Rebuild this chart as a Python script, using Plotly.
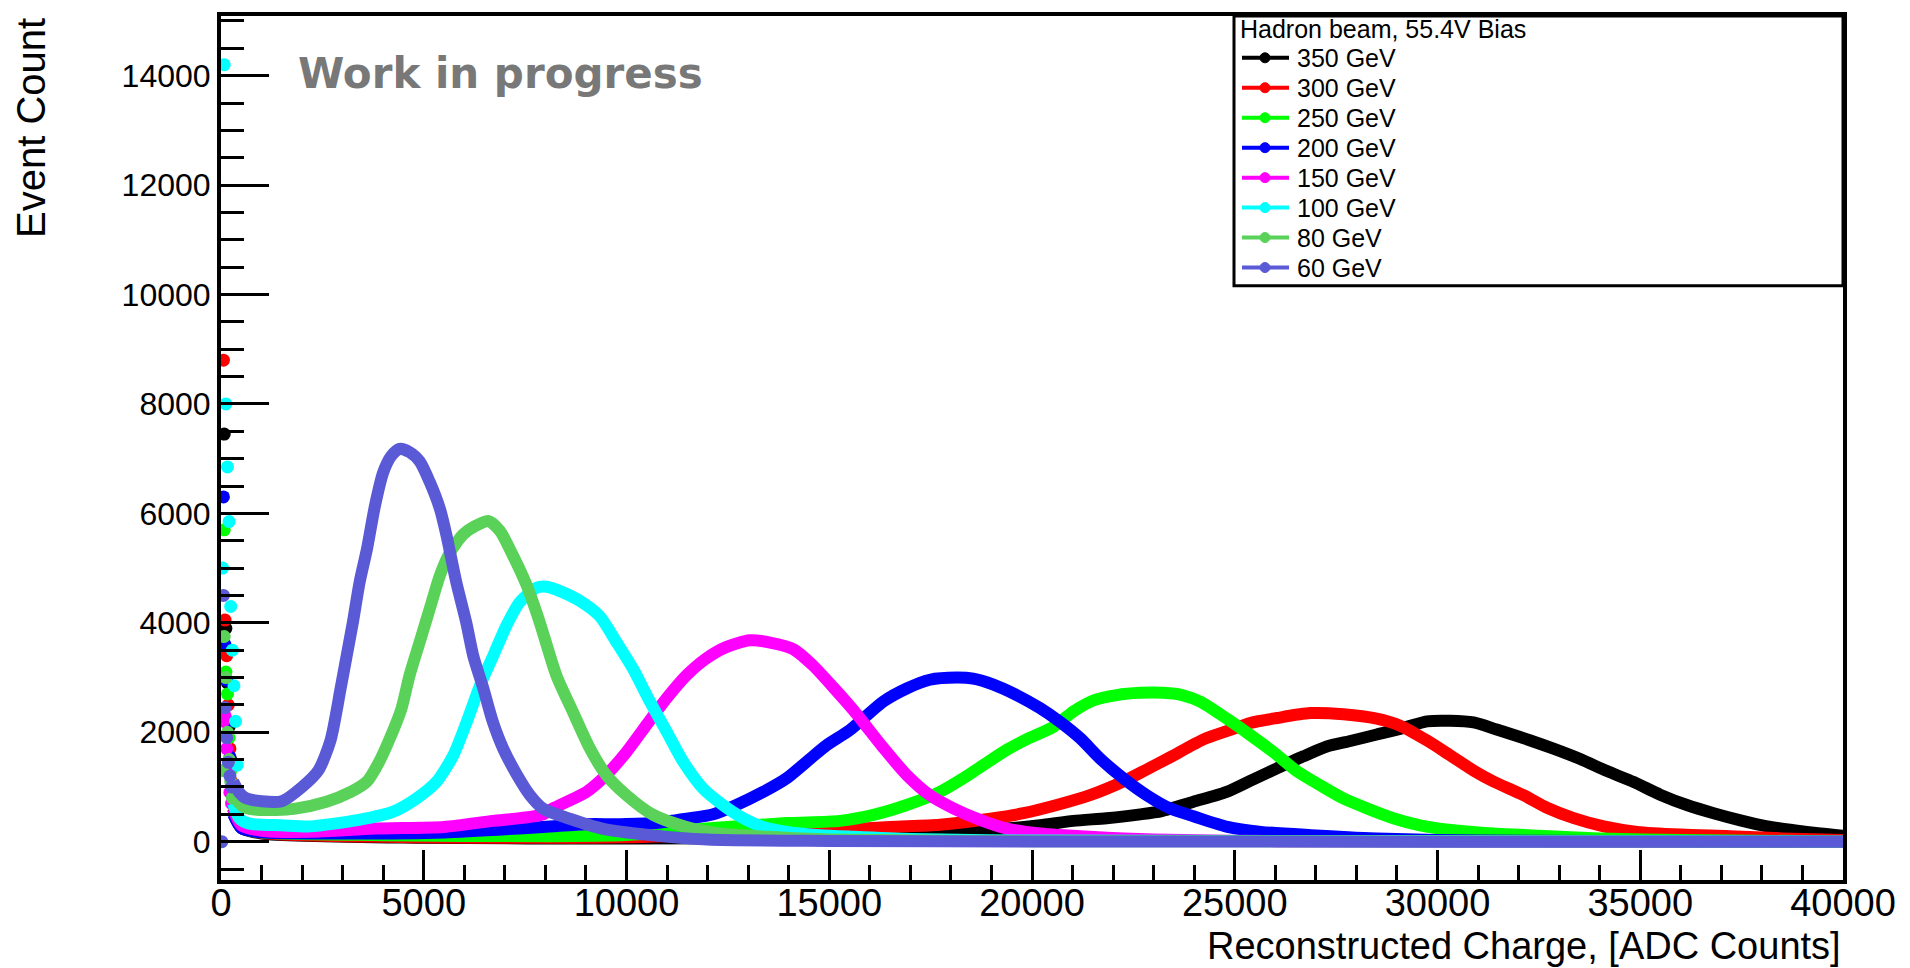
import plotly.graph_objects as go

# ---------------- data ----------------
energies = ["350 GeV", "300 GeV", "250 GeV", "200 GeV", "150 GeV", "100 GeV", "80 GeV", "60 GeV"]
colors = ["#000000", "#ff0000", "#00ff00", "#0000ff", "#ff00ff", "#00ffff", "#5ad25a", "#5a5ad6"]
legend_title = "Hadron beam, 55.4V Bias"

# main distributions: charge (ADC) and event count
x350 = [300, 500, 1000, 5000, 10000, 15000, 17730, 19380, 20200, 21020, 21840, 22670, 23200, 23980, 24800,
        25460, 26040, 26690, 27270, 27850, 28500, 29160, 29740, 30310, 30890, 31460, 32290, 32860, 33520,
        34180, 34840, 35490, 36150, 36810, 37470, 38130, 38780, 39440, 40000]
y350 = [600, 250, 150, 70, 60, 80, 150, 240, 300, 380, 430, 500, 560, 730, 910,
        1140, 1340, 1560, 1740, 1840, 1960, 2080, 2200, 2210, 2180, 2050, 1850, 1700, 1510,
        1290, 1090, 860, 670, 520, 390, 280, 210, 150, 110]

x300 = [300, 500, 1000, 5000, 10000, 13000, 14770, 16500, 17730, 18970, 19790, 20610, 21430, 22250, 22830,
        23400, 24230, 24800, 25380, 26040, 26860, 27680, 28500, 29080, 29740, 30310, 30890, 31380,
        32120, 32700, 33360, 34100, 34920, 36000, 37200, 38500, 40000]
y300 = [700, 280, 160, 80, 80, 150, 200, 270, 310, 420, 520, 670, 850, 1100, 1320,
        1540, 1870, 2020, 2170, 2260, 2350, 2330, 2250, 2120, 1850, 1580, 1300, 1100,
        850, 620, 430, 280, 180, 130, 100, 60, 30]

x250 = [300, 500, 1000, 4000, 8000, 10000, 12140, 13950, 15260, 16090, 16910, 17730, 18310, 18800, 19380,
        19950, 20530, 21020, 21510, 22090, 22670, 23240, 23700, 24150, 24800, 25380, 25950, 26530, 27110,
        27680, 28260, 28910, 29570, 30390, 31380, 32500, 34000, 36000, 40000]
y250 = [550, 260, 170, 120, 100, 120, 250, 340, 380, 490, 670, 910, 1160, 1400, 1680,
        1900, 2100, 2380, 2580, 2680, 2720, 2720, 2680, 2560, 2250, 1950, 1640, 1290, 1030,
        790, 610, 430, 300, 210, 150, 110, 60, 30, 5]

x200 = [300, 500, 1000, 3000, 5500, 7950, 9010, 9840, 10660, 11480, 12140, 12710, 13370, 13950, 14440,
        14930, 15510, 16330, 16910, 17480, 18140, 18550, 19050, 19620, 20200, 20690, 21190, 21680, 22250,
        22830, 23400, 24000, 24820, 25650, 26880, 28500, 31000, 40000]
y200 = [500, 250, 170, 150, 170, 270, 320, 320, 340, 420, 500, 670, 910, 1160, 1460,
        1760, 2040, 2560, 2800, 2960, 3000, 2980, 2870, 2680, 2440, 2190, 1890, 1520, 1160,
        850, 610, 460, 270, 180, 120, 60, 20, 0]

x150 = [300, 500, 1000, 2200, 3800, 5500, 6700, 7370, 7950, 8190, 9010, 9500, 10000, 10490, 10990,
        11480, 11970, 12470, 13040, 13540, 14110, 14600, 15100, 15600, 16330, 16910, 17480, 18060, 18720,
        19380, 20200, 21430, 23000, 26000, 40000]
y150 = [600, 300, 200, 180, 240, 270, 380, 430, 500, 610, 910, 1220, 1640, 2130, 2620,
        3040, 3350, 3560, 3680, 3640, 3520, 3220, 2820, 2400, 1720, 1220, 850, 610, 400,
        240, 150, 90, 40, 10, 0]

x100 = [300, 450, 700, 1500, 2200, 3400, 4250, 4820, 5320, 5730, 6060, 6390, 6720, 7040, 7370,
        7780, 8030, 8360, 8850, 9340, 9750, 10160, 10580, 10990, 11400, 11890, 12380, 12880, 13370,
        13950, 14770, 15600, 17000, 20000, 40000]
y100 = [700, 430, 330, 300, 280, 400, 550, 790, 1100, 1580, 2190, 2860, 3410, 3950, 4380,
        4640, 4660, 4580, 4400, 4120, 3650, 3160, 2560, 2010, 1460, 970, 670, 430, 270,
        180, 120, 90, 50, 20, 0]

x80 = [300, 450, 600, 950, 1800, 2600, 3200, 3600, 3900, 4200, 4450, 4650, 4900, 5150, 5400,
       5650, 5980, 6300, 6600, 6880, 7200, 7540, 7860, 8270, 8680, 9100, 9500, 10000, 10660,
       11480, 12300, 13500, 15000, 20000, 40000]
y80 = [900, 700, 620, 580, 600, 730, 910, 1100, 1460, 1950, 2430, 3040, 3650, 4260, 4870,
       5290, 5620, 5780, 5860, 5680, 5230, 4680, 4010, 3040, 2370, 1700, 1220, 850, 490,
       270, 150, 90, 40, 10, 0]

x60 = [300, 450, 600, 1000, 1500, 2000, 2400, 2700, 2950, 3100, 3250, 3420, 3600, 3800, 4000,
       4200, 4400, 4650, 4900, 5150, 5400, 5560, 5800, 6050, 6220, 6470, 6700, 6960, 7300,
       7620, 7950, 8600, 9400, 10600, 12000, 15000, 20000, 30000, 40000]
y60 = [1100, 900, 800, 740, 740, 1000, 1300, 1850, 2800, 3400, 4000, 4750, 5350, 6150, 6750,
       7050, 7180, 7120, 6950, 6570, 6080, 5600, 4750, 4000, 3400, 2800, 2200, 1700, 1220,
       850, 600, 420, 240, 120, 40, 15, 5, 0, 0]

# first bins near zero charge (pedestal spike), shown as isolated points
sx350 = [80, 120, 160, 200, 240, 280]
sy350 = [7450, 3900, 2900, 2100, 1500, 1000]
sx300 = [60, 100, 140, 180, 220, 260]
sy300 = [8800, 4050, 3400, 2500, 1700, 1100]
sx250 = [80, 120, 160, 200, 240, 280]
sy250 = [5700, 3100, 2700, 1900, 1300, 900]
sx200 = [60, 100, 140, 180, 220, 260]
sy200 = [6300, 3600, 2950, 2200, 1550, 1000]
sx150 = [60, 100, 140, 180, 220, 260]
sy150 = [2200, 2300, 1700, 1300, 900, 700]
sx100 = [40, 80, 120, 160, 200, 240, 280, 320, 360, 400]
sy100 = [5000, 14200, 8000, 6850, 5850, 4300, 3500, 2850, 2200, 1400]
sx80 = [40, 80, 120, 160, 200, 240, 280]
sy80 = [1300, 3750, 3000, 2000, 1500, 1100, 800]
sx60 = [20, 60, 100, 140, 180, 220, 260]
sy60 = [0, 4500, 2450, 1900, 1450, 1200, 1000]

main_x = [x350, x300, x250, x200, x150, x100, x80, x60]
main_y = [y350, y300, y250, y200, y150, y100, y80, y60]
spike_x = [sx350, sx300, sx250, sx200, sx150, sx100, sx80, sx60]
spike_y = [sy350, sy300, sy250, sy200, sy150, sy100, sy80, sy60]

x_ticks = [0, 5000, 10000, 15000, 20000, 25000, 30000, 35000, 40000]
y_ticks = [0, 2000, 4000, 6000, 8000, 10000, 12000, 14000]

# ---------------- figure ----------------
W, H = 1910, 968
ML, MR, MT, MB = 221, 67, 12, 88
PW, PH = W - ML - MR, H - MT - MB

def px_x(p):  # pixel -> paper x
    return (p - ML) / PW

def px_y(p):  # pixel -> paper y
    return (H - MB - p) / PH

fig = go.Figure()

for name, col, xs, ys, sxs, sys_ in zip(energies, colors, main_x, main_y, spike_x, spike_y):
    fig.add_trace(go.Scatter(
        x=xs, y=ys, mode="lines", name=name, legendgroup=name, showlegend=False,
        line=dict(color=col, width=12, shape="spline", smoothing=0.7),
        hoverinfo="x+y+name"))
    fig.add_trace(go.Scatter(
        x=sxs, y=sys_, mode="markers", name=name, legendgroup=name, showlegend=False,
        marker=dict(color=col, size=13), hoverinfo="x+y+name"))

FONT = "Liberation Sans, Arial, sans-serif"

fig.update_layout(
    width=W, height=H, autosize=False,
    margin=dict(l=ML, r=MR, t=MT, b=MB, pad=0),
    paper_bgcolor="white", plot_bgcolor="white",
    font=dict(family=FONT, color="black"),
    showlegend=False,
    xaxis=dict(
        range=[0, 40000], showgrid=False, zeroline=False,
        showline=True, linecolor="black", linewidth=4, mirror=True,
        ticks="inside", ticklen=30, tickwidth=3, tickcolor="black",
        tickvals=x_ticks, ticktext=[str(v) for v in x_ticks],
        tickfont=dict(family=FONT, size=38), ticklabelstandoff=-14,
        minor=dict(ticks="inside", ticklen=15, tickwidth=3, tickcolor="black", dtick=1000, tick0=0, showgrid=False),
    ),
    yaxis=dict(
        range=[-700, 15090], showgrid=False, zeroline=False,
        showline=True, linecolor="black", linewidth=4, mirror=True,
        ticks="inside", ticklen=48, tickwidth=3, tickcolor="black",
        tickvals=y_ticks, ticktext=[str(v) for v in y_ticks],
        tickfont=dict(family=FONT, size=32),
        minor=dict(ticks="inside", ticklen=23, tickwidth=3, tickcolor="black", dtick=500, tick0=0, showgrid=False),
    ),
)

# ---------------- legend (ROOT TLegend style) ----------------
fig.add_shape(type="rect", xref="paper", yref="paper", x0=px_x(1234), x1=1.0, y0=px_y(283), y1=1.0,
              line=dict(color="black", width=3), fillcolor="rgba(0,0,0,0)")
fig.add_annotation(text=legend_title, xref="paper", yref="paper", x=px_x(1238), y=px_y(25),
                   xanchor="left", yanchor="middle", showarrow=False,
                   font=dict(family=FONT, size=25, color="black"))
for i, (name, col) in enumerate(zip(energies, colors)):
    yc = px_y(54 + i * 30.1)
    fig.add_shape(type="line", xref="paper", yref="paper", x0=px_x(1242), x1=px_x(1289), y0=yc, y1=yc,
                  line=dict(color=col, width=4))
    fig.add_shape(type="circle", xref="paper", yref="paper", xsizemode="pixel", ysizemode="pixel",
                  xanchor=px_x(1265), yanchor=yc, x0=-5, x1=5, y0=-5, y1=5,
                  line=dict(color=col, width=1), fillcolor=col)
    fig.add_annotation(text=name, xref="paper", yref="paper", x=px_x(1295), y=yc,
                       xanchor="left", yanchor="middle", showarrow=False,
                       font=dict(family=FONT, size=25, color="black"))

# axis titles
fig.add_annotation(text="Reconstructed Charge, [ADC Counts]", xref="paper", yref="paper",
                   x=1.0, y=px_y(946), xanchor="right", yanchor="middle", showarrow=False,
                   font=dict(family=FONT, size=38, color="black"))
fig.add_annotation(text="Event Count", xref="paper", yref="paper", textangle=-90,
                   x=px_x(31), y=1.0, xanchor="center", yanchor="top", showarrow=False,
                   font=dict(family=FONT, size=40, color="black"))

# "Work in progress" label
fig.add_annotation(text="<b>Work in progress</b>", xref="paper", yref="paper",
                   x=px_x(296), y=px_y(70), xanchor="left", yanchor="middle",
                   showarrow=False, font=dict(family="DejaVu Sans, Verdana, sans-serif", size=42, color="#787878"))

fig.write_html("out.html")
